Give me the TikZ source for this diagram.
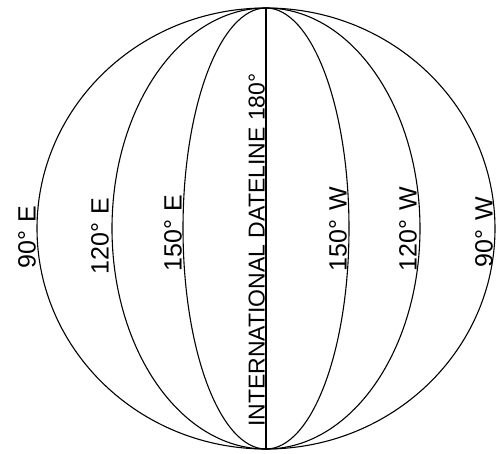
\documentclass[tikz,border=0pt]{standalone}
\usepackage{fontspec}
\setmainfont{Liberation Sans}
\usepackage{tikz}

\tikzset{
  meridian/.style={draw=black, line width=1.1pt},
  lonlabel/.style={rotate=90, anchor=south, inner sep=1pt, font=\fontsize{25}{25}\selectfont},
  dateline/.style={rotate=90, anchor=south, inner sep=1pt, font=\fontsize{23}{23}\selectfont}
}

\begin{document}
\begin{tikzpicture}[x=1pt, y=-1pt]
\useasboundingbox (0,0) rectangle (498,453);

% Pole und Mitte
\coordinate (N) at (266,8);
\coordinate (S) at (266,449);
\coordinate (M) at (266,228.5);

% Meridiane
\draw[meridian] (M) ellipse [x radius=229, y radius=220.5]; % 90
\draw[meridian] (M) ellipse [x radius=154, y radius=220.5]; % 120
\draw[meridian] (M) ellipse [x radius=83, y radius=220.5];  % 150
\draw[meridian] (N) -- (S);                                 % 180

% Beschriftung Ost
\node[lonlabel] (e90)  at (37,237)  {90°\hspace{0.35em}E};
\node[lonlabel] (e120) at (110,236) {120°\hspace{0.35em}E};
\node[lonlabel] (e150) at (183,233) {150°\hspace{0.35em}E};

% Datumsgrenze
\node[dateline] (dl) at (266,250) {INTERNATIONAL DATELINE 180°};

% Beschriftung West
\node[lonlabel] (w150) at (348,229) {150°\hspace{0.35em}W};
\node[lonlabel] (w120) at (418,229) {120°\hspace{0.35em}W};
\node[lonlabel] (w90)  at (494,232) {90°\hspace{0.35em}W};

\end{tikzpicture}
\end{document}
